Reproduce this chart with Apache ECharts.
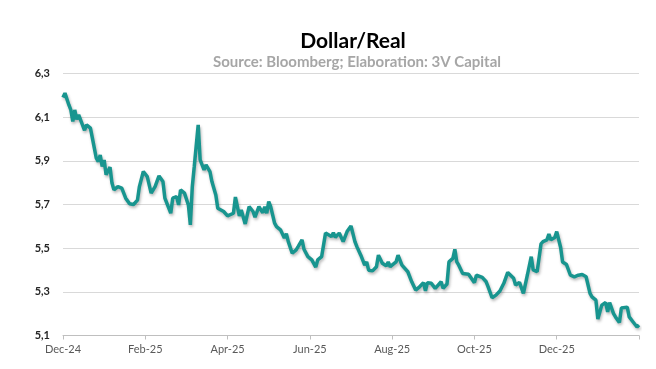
<!DOCTYPE html>
<html>
<head>
<meta charset="utf-8">
<script src="https://cdn.jsdelivr.net/npm/echarts@6/dist/echarts.min.js"></script>
<style>
html,body{margin:0;padding:0;background:#fff;}
#chart{width:656px;height:369px;}
</style>
</head>
<body>
<div id="chart"></div>
<script>
// Trading-day index (from start of Dec-24) and USD/BRL close
const dayIndex = [0,1,3,4,5,6,7,8,9,11,12,14,15,17,18,19,20,21,22,24,25,26,28,30,32,34,36,38,39,41,43,45,47,49,51,52,54,55,56,58,59,60,62,64,65,66,67,69,70,72,73,75,76,78,79,80,82,84,85,87,88,90,91,93,95,97,98,100,101,102,103,104,105,106,108,109,111,113,114,115,117,119,120,122,123,125,127,129,130,132,134,135,137,138,139,141,143,145,147,149,150,152,154,155,156,158,160,161,162,163,165,166,167,170,171,173,174,176,178,180,182,184,185,186,188,190,191,193,194,196,197,199,200,201,202,204,205,207,208,210,211,212,214,216,217,219,221,223,225,227,228,230,231,233,235,237,239,240,242,243,244,245,247,248,249,251,252,254,255,257,259,261,263,265,267,269,270,272,273,275,277,278,279,281,282,284,285,286,288,289,291,292,293,294];
const values = [6.19,6.21,6.156,6.133,6.08,6.133,6.09,6.11,6.11,6.04,6.065,6.05,6.004,5.912,5.897,5.927,5.874,5.904,5.836,5.871,5.798,5.767,5.782,5.775,5.729,5.703,5.70,5.72,5.782,5.851,5.828,5.752,5.782,5.831,5.805,5.729,5.683,5.66,5.729,5.736,5.698,5.767,5.752,5.698,5.607,5.782,5.874,6.065,5.904,5.859,5.882,5.851,5.805,5.744,5.683,5.675,5.668,5.648,5.642,5.66,5.734,5.648,5.675,5.611,5.69,5.668,5.642,5.69,5.675,5.663,5.69,5.66,5.713,5.69,5.615,5.599,5.584,5.546,5.566,5.53,5.477,5.492,5.507,5.538,5.495,5.461,5.446,5.413,5.446,5.461,5.569,5.566,5.553,5.571,5.55,5.569,5.53,5.576,5.602,5.53,5.507,5.468,5.422,5.437,5.399,5.396,5.415,5.468,5.477,5.431,5.419,5.437,5.415,5.437,5.468,5.422,5.422,5.392,5.346,5.308,5.323,5.342,5.305,5.342,5.339,5.316,5.32,5.346,5.316,5.336,5.437,5.453,5.495,5.437,5.422,5.384,5.376,5.381,5.372,5.342,5.376,5.372,5.366,5.346,5.323,5.273,5.285,5.304,5.339,5.389,5.389,5.362,5.331,5.343,5.293,5.376,5.461,5.40,5.392,5.392,5.52,5.53,5.538,5.564,5.538,5.549,5.576,5.503,5.437,5.425,5.376,5.369,5.376,5.379,5.369,5.293,5.277,5.262,5.175,5.239,5.251,5.208,5.251,5.2,5.185,5.159,5.226,5.231,5.23,5.185,5.162,5.159,5.139,5.148];
const xTickLabels = ['Dec-24','Feb-25','Apr-25','Jun-25','Aug-25','Oct-25','Dec-25'];
const yTickLabels = ['5,1','5,3','5,5','5,7','5,9','6,1','6,3'];
const titleText = 'Dollar/Real';
const subtitleText = 'Source: Bloomberg; Elaboration: 3V Capital';

const yBase = 5.1;      // axis floor (offset so ticks align from 0)
const yStep = 0.2;
const xStep = 42;       // trading days per label

const seriesData = dayIndex.map((d, i) => [d, +(values[i] - yBase).toFixed(4)]);

const chart = echarts.init(document.getElementById('chart'), null, {renderer: 'canvas'});
chart.setOption({
  animation: false,
  backgroundColor: '#ffffff',
  title: [{
    text: titleText,
    left: 348, top: 26, textAlign: 'center',
    textStyle: {fontFamily: 'Lato', fontWeight: 'bold', fontSize: 21, color: '#000000'}
  }, {
    text: subtitleText,
    left: 352, top: 50, textAlign: 'center',
    textStyle: {fontFamily: 'Lato', fontWeight: 'bold', fontSize: 15, color: '#a6a6a6'}
  }],
  grid: {left: 63, right: 17, top: 73.5, bottom: 33.5, containLabel: false},
  xAxis: {
    type: 'value',
    min: 0, max: xStep * xTickLabels.length,
    interval: xStep,
    axisLine: {show: true, lineStyle: {color: '#bfbfbf', width: 1}},
    axisTick: {show: true, length: 4, lineStyle: {color: '#bfbfbf'}},
    splitLine: {show: false},
    axisLabel: {
      show: true, margin: 8,
      fontFamily: 'Lato', fontSize: 11, color: '#595959',
      showMaxLabel: true,
      formatter: v => xTickLabels[Math.round(v / xStep)] || ''
    }
  },
  yAxis: {
    type: 'value',
    min: 0, max: yStep * (yTickLabels.length - 1),
    interval: yStep,
    axisLine: {show: false},
    axisTick: {show: false},
    splitLine: {show: true, lineStyle: {color: '#d9d9d9', width: 1}},
    axisLabel: {
      margin: 13,
      fontFamily: 'Lato', fontWeight: 'bold', fontSize: 11, color: '#262626',
      formatter: v => yTickLabels[Math.round(v / yStep)] || ''
    }
  },
  series: [{
    type: 'line',
    data: seriesData,
    showSymbol: false,
    smooth: false,
    lineStyle: {
      color: '#18958f', width: 3.5,
      shadowColor: 'rgba(0,0,0,0.28)', shadowBlur: 3, shadowOffsetY: 2, shadowOffsetX: 1
    },
    itemStyle: {color: '#18958f'}
  }]
});
</script>
</body>
</html>
